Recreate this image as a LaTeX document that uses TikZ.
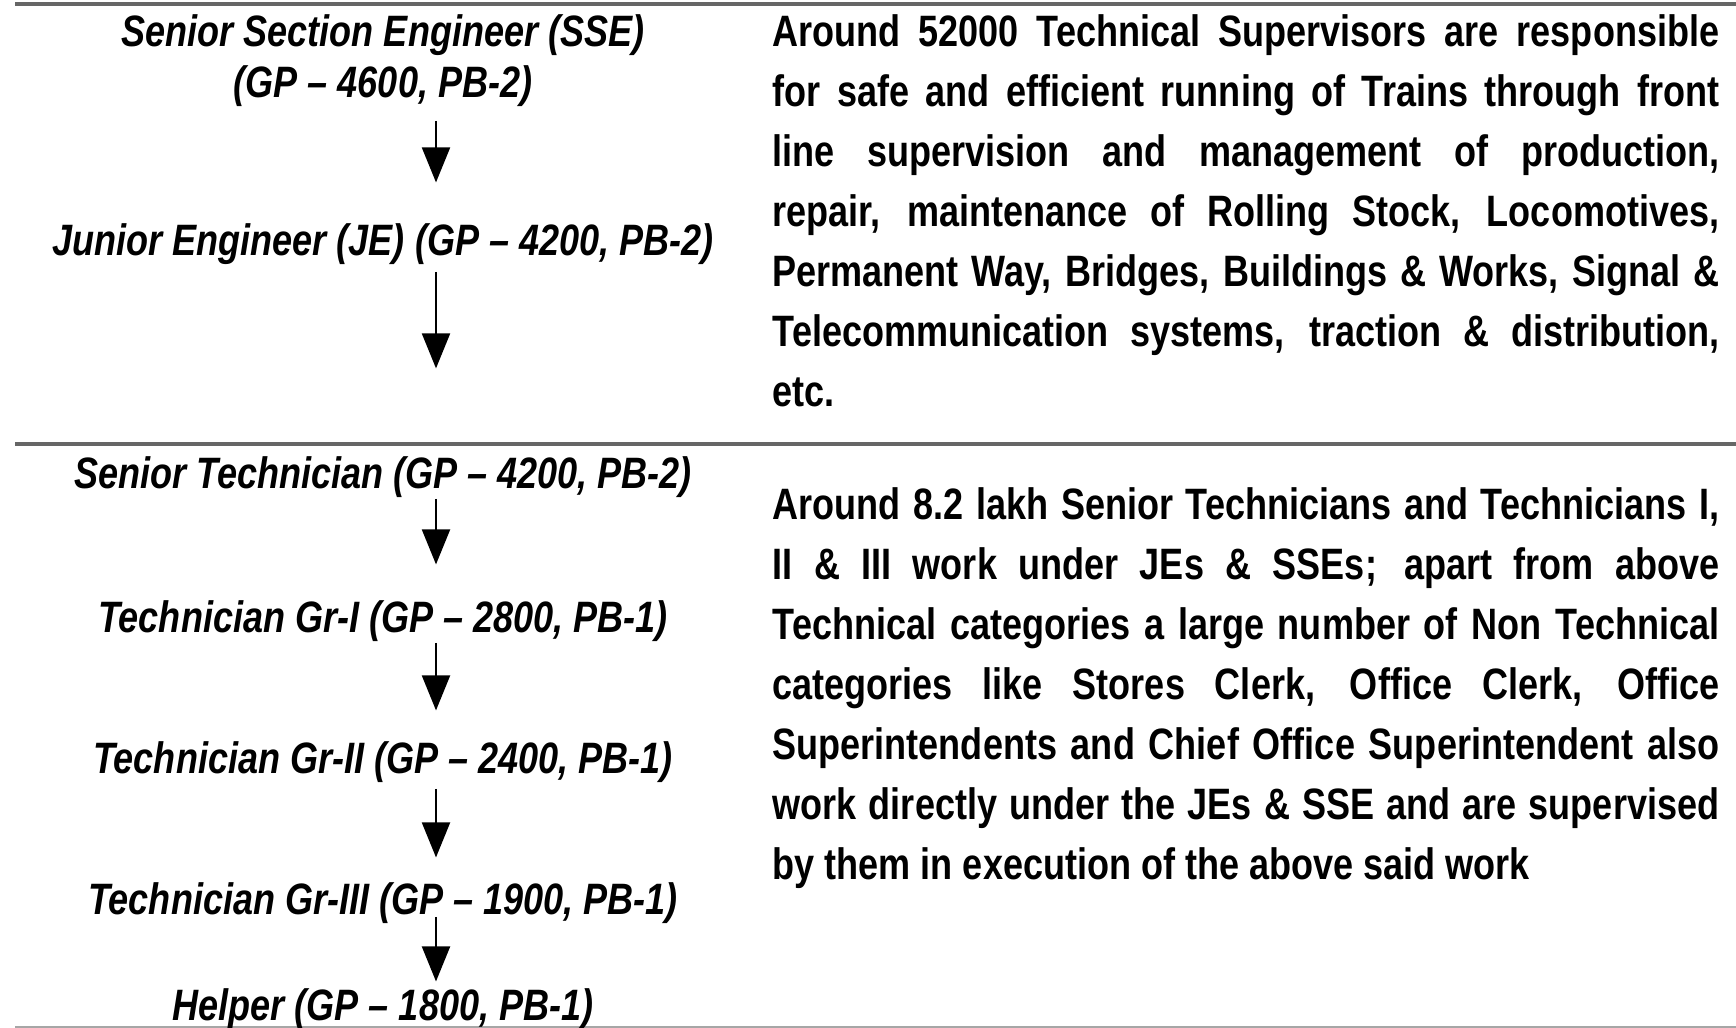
\documentclass[tikz,border=0pt]{standalone}
\usepackage{fontspec}
\newfontfamily\narrowfont[FakeStretch=0.82]{Liberation Sans}
\usetikzlibrary{arrows.meta,positioning}

\tikzset{
  rank/.style={font=\narrowfont\bfseries\itshape\fontsize{12.5pt}{14.5pt}\selectfont, inner sep=0pt, anchor=base},
  note/.style={font=\narrowfont\bfseries\fontsize{12.5pt}{17.07pt}\selectfont, text width=9.46cm, align=justify, inner sep=0pt, anchor=north west},
  flow/.style={-{Triangle[length=0.35cm,width=0.28cm]}, line width=0.6pt},
  rule/.style={line width=0.9pt, black!60}
}

\begin{document}
\begin{tikzpicture}[x=0.01cm, y=0.01cm]
\path[fill=white, use as bounding box] (0,0) rectangle (1736,-1028);

% separating rules
\draw[rule] (15,-4) -- (1736,-4);
\draw[rule] (15,-444) -- (1736,-444);
\draw[rule, line width=0.4pt, black!35] (15,-1027) -- (1736,-1027);

% axis of the arrows
\coordinate (ax) at (436,0);

% supervisors
\node[rank, align=center] (sse) at (383,-98) {Senior Section Engineer (SSE)\\(GP – 4600, PB-2)};
\node[rank] (je) at (383,-256) {Junior Engineer (JE) (GP – 4200, PB-2)};

% technicians
\node[rank] (st) at (383,-489) {Senior Technician (GP – 4200, PB-2)};
\node[rank] (g1) at (383,-633) {Technician Gr-I (GP – 2800, PB-1)};
\node[rank] (g2) at (383,-774) {Technician Gr-II (GP – 2400, PB-1)};
\node[rank] (g3) at (383,-915) {Technician Gr-III (GP – 1900, PB-1)};
\node[rank] (hp) at (383,-1020) {Helper (GP – 1800, PB-1)};

\draw[flow, shorten <=0.13cm, shorten >=0.41cm] (sse.south -| ax) -- (je.north -| ax);
\draw[flow, shorten <=0.06cm, shorten >=0.88cm] (je.south -| ax) -- (st.north -| ax);
\draw[flow, shorten >=0.36cm] (st.south -| ax) -- (g1.north -| ax);
\draw[flow, shorten >=0.31cm] (g1.south -| ax) -- (g2.north -| ax);
\draw[flow, shorten <=0.05cm, shorten >=0.25cm] (g2.south -| ax) -- (g3.north -| ax);
\draw[flow, shorten <=-0.08cm, shorten >=0.06cm] (g3.south -| ax) -- (hp.north -| ax);

% descriptions
\node[note] (supnote) at (772,-14) {Around 52000 Technical Supervisors are responsible\linebreak
for safe and efficient running of Trains through front\linebreak
line supervision and management of production,\linebreak
repair, maintenance of Rolling Stock, Locomotives,\linebreak
Permanent Way, Bridges, Buildings \& Works, Signal \&\linebreak
Telecommunication systems, traction \& distribution,\linebreak
etc.};
\node[note] (technote) at (772,-487) {Around 8.2 lakh Senior Technicians and Technicians I,\linebreak
II \& III work under JEs \& SSEs; apart from above\linebreak
Technical categories a large number of Non Technical\linebreak
categories like Stores Clerk, Office Clerk, Office\linebreak
Superintendents and Chief Office Superintendent also\linebreak
work directly under the JEs \& SSE and are supervised\linebreak
by them in execution of the above said work};
\end{tikzpicture}
\end{document}
